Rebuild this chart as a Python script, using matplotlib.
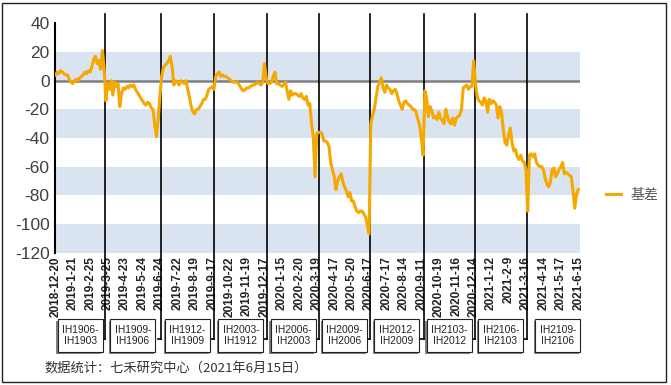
import matplotlib.pyplot as plt
import numpy as np
import matplotlib.transforms as mtransforms
from matplotlib.patches import Rectangle

plt.rcParams['font.family'] = ['Liberation Sans', 'Noto Sans CJK SC', 'DejaVu Sans']
plt.rcParams['axes.unicode_minus'] = False

# tick labels, one every 10 trading days
date_labels = ['2018-12-20', '2019-1-21', '2019-2-25', '2019-3-25', '2019-4-23', '2019-5-24',
               '2019-6-24', '2019-7-22', '2019-8-19', '2019-9-17', '2019-10-22', '2019-11-19',
               '2019-12-17', '2020-1-15', '2020-2-20', '2020-3-19', '2020-4-17', '2020-5-20',
               '2020-6-17', '2020-7-17', '2020-8-14', '2020-9-11', '2020-10-19', '2020-11-16',
               '2020-12-14', '2021-1-12', '2021-2-9', '2021-3-16', '2021-4-14', '2021-5-17',
               '2021-6-15']

# basis, one value per trading day
basis = [4, 6, 5, 7, 6, 5, 4, 4, 1, -1, -2, 0, 1, 0, 2, 3, 4, 6, 5, 7, 6, 10, 15, 17, 12, 14, 8, 21, 9,
         -14, -2, -6, 0, -10, -1, -4, -2, -18, -9, -5, -6, -4, -5, -3, -4, -3, -6, -8, -10,
         -12, -14, -16, -17, -15, -16, -19, -20, -30, -39, -27, -11,
         3, 9, 11, 12, 14, 17, 10, -3, 0, -1, -3, 0, -1, -2, 0, -6, -12, -18, -22, -23,
         -20, -20, -18, -16, -13, -13, -10, -6, -5, -4, -6,
         3, 5, 6, 3, 4, 3, 3, 2, 1, 0, -1, -1, -1, -2, -4, -6, -7, -6, -5, -5,
         -4, -3, -3, -2, -1, -2, -3, -1, 12, 2,
         -2, -2, -1, 3, 6, -2, -2, -3, -4, -3, -1, -7, -13, -7, -10, -9, -9, -10, -11, -9,
         -12, -13, -11, -17, -16, -30, -39, -67, -37, -36,
         -36, -37, -42, -42, -43, -46, -57, -62, -67, -76, -70, -67, -65, -71, -74, -77, -81, -78, -84, -84,
         -88, -91, -92, -91, -91, -93, -95, -101, -107,
         -30, -24, -20, -12, -4, -1, 2, -5, -8, -3, -5, -6, -9, -7, -6, -9, -14, -17, -20, -15,
         -14, -16, -17, -18, -20, -20, -22, -27, -31, -40, -52,
         -7, -12, -25, -18, -21, -26, -25, -27, -22, -26, -28, -30, -20, -25, -29, -30, -26, -31, -26, -25,
         -24, -20, -5, -4, -3, -6, -4, -4, 14,
         -2, -11, -14, -15, -17, -12, -14, -22, -13, -16, -14, -15, -17, -26, -18, -22, -34, -43, -45, -38,
         -33, -43, -49, -48, -53, -55, -52, -56, -57, -62,
         -91, -52, -51, -53, -51, -57, -59, -60, -60, -62, -68, -72, -74, -71, -62, -61, -67, -65, -62, -60,
         -57, -65, -64, -65, -66, -67, -77, -89, -79, -76]

# contract roll days (trading-day index)
roll_day = [28.5, 60.5, 91.3, 121.6, 151.4, 180.5, 211.3, 240.7, 270.5]
spreads = ['IH1906-\nIH1903', 'IH1909-\nIH1906', 'IH1912-\nIH1909', 'IH2003-\nIH1912',
           'IH2006-\nIH2003', 'IH2009-\nIH2006', 'IH2012-\nIH2009', 'IH2103-\nIH2012',
           'IH2106-\nIH2103', 'IH2109-\nIH2106']

W, H = 671, 385
fig = plt.figure(figsize=(W / 100, H / 100), dpi=100)
ax = fig.add_axes([55.3 / W, 1 - 252.7 / H, (580 - 55.3) / W, 229.3 / H])

day = np.arange(len(basis))

for lo in (-120, -80, -40, 0):
    ax.axhspan(lo, lo + 20, color='#dae4f0', lw=0, zorder=0)
ax.axhline(0, color='#7f7f7f', lw=1.8, zorder=1)

line, = ax.plot(day, basis, color='#f5a800', lw=2.2, zorder=5, label='基差',
                solid_joinstyle='round')

trans = mtransforms.blended_transform_factory(ax.transData, ax.transAxes)
y_low = -0.376
for d in roll_day:
    ax.plot([d, d], [y_low, 1.041], transform=trans, color='black', lw=1.2,
            clip_on=False, zorder=4)
    ax.plot([d - 1.8, d], [y_low, y_low], transform=trans, color='black', lw=1.2,
            clip_on=False, zorder=4)

bounds = [0] + roll_day + [306]
bw, bh, bb = 25.8, 0.144, -0.433
for k, name in enumerate(spreads):
    cx = (bounds[k] + bounds[k + 1]) / 2
    ax.add_patch(Rectangle((cx - bw / 2 - 0.9, bb - 0.008), bw, bh, transform=trans,
                           fc='#7f7f7f', ec='none', clip_on=False, zorder=6))
    ax.add_patch(Rectangle((cx - bw / 2, bb), bw, bh, transform=trans,
                           fc='white', ec='#222222', lw=0.8, clip_on=False, zorder=7))
    ax.text(cx, bb + bh / 2, name, transform=trans, ha='center', va='center',
            fontsize=7.4, linespacing=1.05, color='#222222', zorder=8)

ax.set_xlim(0, 301)
ax.set_ylim(-120, 40)
ax.set_xticks(range(0, 301, 10))
ax.set_xticklabels(date_labels, rotation=90, fontsize=8.5, fontweight='bold', color='#222222')
ax.set_yticks(range(-120, 41, 20))
ax.tick_params(axis='x', length=0, pad=2.5)
ax.tick_params(axis='y', length=0, pad=4, labelsize=12.5, labelcolor='#404040')
for s in ('top', 'right', 'bottom'):
    ax.spines[s].set_visible(False)
ax.spines['left'].set_color('black')
ax.spines['left'].set_linewidth(1.5)
ax.spines['left'].set_zorder(4)

fig.legend(handles=[line], loc='center left', bbox_to_anchor=(606 / W, 1 - 195 / H),
           frameon=False, handlelength=1.1, handletextpad=0.7, borderpad=0, borderaxespad=0,
           prop={'family': 'Noto Sans CJK SC', 'size': 10}, labelcolor='#595959')

fig.text(44 / W, 1 - 368.5 / H, '数据统计：七禾研究中心（2021年6月15日）',
         family=['Noto Sans CJK SC', 'DejaVu Sans'], fontsize=9.5, color='#333333', va='center')

fig.add_artist(Rectangle((2 / W, 3 / H), 664 / W, 379 / H, transform=fig.transFigure,
                         fill=False, ec='#222222', lw=1))

fig.savefig('out.png', dpi=100)
